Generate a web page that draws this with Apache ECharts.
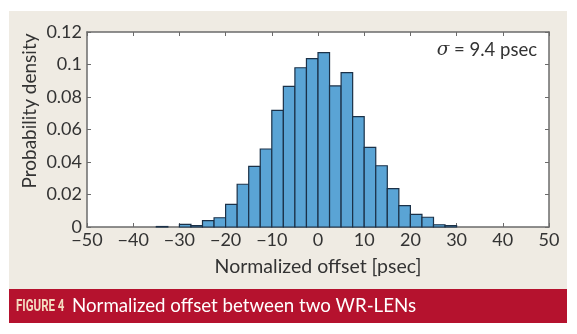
<!DOCTYPE html>
<html><head><meta charset="utf-8">
<script src="https://cdn.jsdelivr.net/npm/echarts@6/dist/echarts.min.js"></script>
<style>html,body{margin:0;padding:0;background:#fff;}#c{width:577px;height:334px;}</style>
</head><body><div id="c"></div>
<script>
// Histogram bins (left edge, psec) and probability density values
const binStarts = [-35, -30, -27.5, -25, -22.5, -20, -17.5, -15, -12.5, -10, -7.5, -5, -2.5, 0, 2.5, 5, 7.5, 10, 12.5, 15, 17.5, 20, 22.5, 25, 27.5];
const density   = [0.0003, 0.0016, 0.0008, 0.0039, 0.0057, 0.0139, 0.0263, 0.0373, 0.048, 0.0718, 0.0866, 0.098, 0.1036, 0.1073, 0.0868, 0.095, 0.0679, 0.049, 0.0377, 0.0236, 0.0131, 0.0078, 0.006, 0.0014, 0.0008];
const binWidth = 2.5;
const xTicks = [-50, -40, -30, -20, -10, 0, 10, 20, 30, 40, 50];
const yTicks = [0, 0.02, 0.04, 0.06, 0.08, 0.1, 0.12];
const sigmaText = '9.4 psec';

const chart = echarts.init(document.getElementById('c'));
const font = 'Lato';
const axisColor = '#6b6b6b';
const fmtX = v => String(v).replace('-', '\u2212');
const fmtY = v => (v === 0 ? '0' : String(v));

const data = binStarts.map((s, i) => [s, s + binWidth, density[i]]);

chart.setOption({
  animation: false,
  graphic: [
    { type: 'rect', z: -10, shape: { x: 9, y: 11, width: 558, height: 278 }, style: { fill: '#efebe3' } },
    { type: 'rect', z: -10, shape: { x: 9, y: 289, width: 558, height: 34 }, style: { fill: '#b5122e' } },
    { type: 'text', x: 16, y: 307, scaleX: 0.72, style: { text: 'FIGURE 4', fill: '#f4dcc0', font: 'bold 16px Roboto', verticalAlign: 'middle' } },
    { type: 'text', x: 72, y: 306, style: { text: 'Normalized offset between two WR-LENs', fill: '#ffffff', font: '18.7px ' + font, verticalAlign: 'middle' } },
    { type: 'text', x: 30, y: 111, rotation: Math.PI / 2, style: { text: 'Probability density', fill: '#333', font: '19px ' + font, align: 'center', verticalAlign: 'middle' } },
    { type: 'text', x: 537, y: 50, style: { text: '{s|σ} = ' + sigmaText, align: 'right', verticalAlign: 'middle', fill: '#333', font: '18.5px ' + font,
        rich: { s: { fontStyle: 'italic', fontSize: 18.5, fontFamily: 'DejaVu Serif', fill: '#333' } } } }
  ],
  grid: { left: 87, right: 28, top: 32, bottom: 107, show: true, backgroundColor: '#ffffff', borderWidth: 0 },
  xAxis: [
    { type: 'value', min: -50, max: 50, interval: 10, position: 'bottom',
      axisLine: { show: true, onZero: false, lineStyle: { color: axisColor, width: 1.5 } },
      axisTick: { show: true, inside: true, length: 4, lineStyle: { color: axisColor } },
      splitLine: { show: false },
      axisLabel: { formatter: fmtX, color: '#333', fontSize: 18, fontFamily: font, margin: 4 },
      name: 'Normalized offset [psec]', nameLocation: 'middle', nameGap: 30,
      nameTextStyle: { color: '#333', fontSize: 19.5, fontFamily: font } },
    { type: 'value', min: -50, max: 50, interval: 10, position: 'top',
      axisLine: { show: true, onZero: false, lineStyle: { color: axisColor, width: 1.5 } },
      axisTick: { show: true, inside: true, length: 4, lineStyle: { color: axisColor } },
      splitLine: { show: false }, axisLabel: { show: false } }
  ],
  yAxis: [
    { type: 'value', min: 0, max: 0.12, interval: 0.02, position: 'left',
      axisLine: { show: true, onZero: false, lineStyle: { color: axisColor, width: 1.5 } },
      axisTick: { show: true, inside: true, length: 4, lineStyle: { color: axisColor } },
      splitLine: { show: false },
      axisLabel: { formatter: fmtY, color: '#333', fontSize: 18, fontFamily: font, margin: 5 } },
    { type: 'value', min: 0, max: 0.12, interval: 0.02, position: 'right',
      axisLine: { show: true, onZero: false, lineStyle: { color: axisColor, width: 1.5 } },
      axisTick: { show: true, inside: true, length: 4, lineStyle: { color: axisColor } },
      splitLine: { show: false }, axisLabel: { show: false } }
  ],
  series: [{
    type: 'custom',
    xAxisIndex: 0, yAxisIndex: 0,
    data: data,
    encode: { x: [0, 1], y: 2 },
    renderItem: function (params, api) {
      const p0 = api.coord([api.value(0), api.value(2)]);
      const p1 = api.coord([api.value(1), 0]);
      return {
        type: 'rect',
        shape: { x: p0[0], y: p0[1], width: p1[0] - p0[0], height: p1[1] - p0[1] },
        style: { fill: '#5aa4d5', stroke: '#1b3148', lineWidth: 1.2 }
      };
    }
  }]
});
</script></body></html>
